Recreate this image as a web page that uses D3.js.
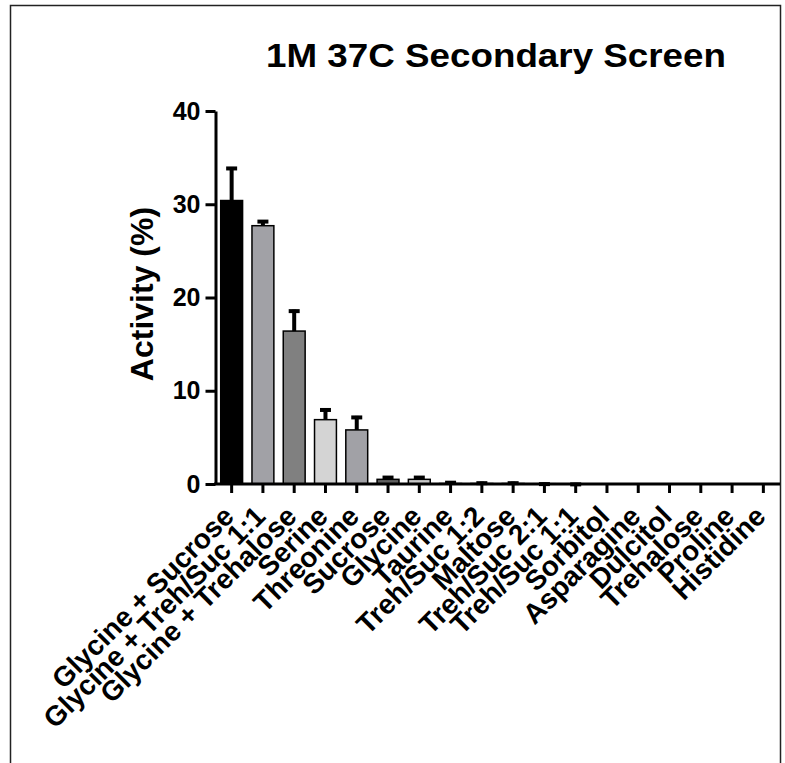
<!DOCTYPE html>
<html>
<head>
<meta charset="utf-8">
<script src="https://cdn.jsdelivr.net/npm/d3@7"></script>
<style>
  body { margin: 0; background: #fff; }
  text { font-family: "Liberation Sans", Arial, sans-serif; font-weight: bold; fill: #000; }
</style>
</head>
<body>
<div id="chart"></div>
<script>
const categories = ["Glycine + Sucrose", "Glycine + Treh/Suc 1:1", "Glycine + Trehalose", "Serine",
    "Threonine", "Sucrose", "Glycine", "Taurine", "Treh/Suc 1:2", "Maltose", "Treh/Suc 2:1",
    "Treh/Suc 1:1", "Sorbitol", "Asparagine", "Dulcitol", "Trehalose", "Proline", "Histidine"];
const activity = [30.4, 27.7, 16.4, 6.9, 5.8, 0.5, 0.5, 0.05, 0.05, 0.05, 0.03, 0.02, 0, 0, 0, 0, 0, 0];
const errors = [3.6, 0.6, 2.3, 1.2, 1.5, 0.35, 0.35, 0.25, 0.2, 0.2, 0.12, 0.1, 0, 0, 0, 0, 0, 0];
const barColors = ["#000000", "#a1a1a6", "#808080", "#d4d4d4", "#a1a1a6", "#616161", "#c8c8c8",
    "#000000", "#a1a1a6", "#808080", "#d4d4d4", "#a1a1a6", "#616161", "#c8c8c8",
    "#000000", "#a1a1a6", "#808080", "#d4d4d4"];
const yTicks = [0, 10, 20, 30, 40];

const width = 785, height = 763;
const svg = d3.select("#chart").append("svg")
    .attr("width", width)
    .attr("height", height);

// outer frame (bottom edge runs off the page)
svg.append("rect")
    .attr("x", 10.5).attr("y", 5.5)
    .attr("width", 770).attr("height", 800)
    .attr("fill", "none")
    .attr("stroke", "#222")
    .attr("stroke-width", 1.5);

const x = d3.scaleBand()
    .domain(categories)
    .range([216, 779])
    .paddingInner(0.3)
    .paddingOuter(0.15);

const y = d3.scaleLinear()
    .domain([0, 40])
    .range([484, 111]);

// bars
svg.selectAll("rect.bar").data(categories).enter()
    .append("rect")
        .attr("class", "bar")
        .attr("x", d => x(d))
        .attr("y", (d, i) => y(activity[i]))
        .attr("width", x.bandwidth())
        .attr("height", (d, i) => y(0) - y(activity[i]))
        .attr("fill", (d, i) => barColors[i])
        .attr("stroke", "#000")
        .attr("stroke-width", 1.5);

// error bars (upper only)
const errG = svg.append("g");
categories.forEach((c, i) => {
    if (errors[i] <= 0) return;
    const cx = x(c) + x.bandwidth() / 2;
    errG.append("line")
        .attr("x1", cx).attr("x2", cx)
        .attr("y1", y(activity[i])).attr("y2", y(activity[i] + errors[i]))
        .attr("stroke", "#000").attr("stroke-width", 4);
    errG.append("line")
        .attr("x1", cx - 5.5).attr("x2", cx + 5.5)
        .attr("y1", y(activity[i] + errors[i]) + 1.5).attr("y2", y(activity[i] + errors[i]) + 1.5)
        .attr("stroke", "#000").attr("stroke-width", 4);
});

// y axis
const yAxis = svg.append("g")
    .attr("transform", "translate(215.5,0)")
    .call(d3.axisLeft(y).tickValues(yTicks).tickSize(10).tickSizeOuter(0).tickPadding(5));
yAxis.select(".domain").attr("stroke", "#000").attr("stroke-width", 3);
yAxis.selectAll(".tick line").attr("stroke", "#000").attr("stroke-width", 3);
yAxis.selectAll(".tick text")
    .style("font-size", "25px")
    .style("font-family", "'Liberation Sans', Arial, sans-serif")
    .style("font-weight", "bold")
    .attr("fill", "#000");

// x axis
const xAxis = svg.append("g")
    .attr("transform", "translate(0,484)")
    .call(d3.axisBottom(x).tickSize(9).tickSizeOuter(0).tickFormat(""));
xAxis.select(".domain").attr("stroke", "#000").attr("stroke-width", 3)
    .attr("d", "M214,0H780");
xAxis.selectAll(".tick line").attr("stroke", "#000").attr("stroke-width", 3);

// rotated category labels
svg.append("g").selectAll("text").data(categories).enter()
    .append("text")
        .attr("text-anchor", "end")
        .attr("transform", d => `translate(${x(d) + x.bandwidth() / 2 + 4},518) rotate(-45)`)
        .style("font-size", "28px")
        .text(d => d);

// axis title
svg.append("text")
    .attr("text-anchor", "middle")
    .attr("transform", "translate(153,294) rotate(-90)")
    .style("font-size", "32px")
    .text("Activity (%)");

// chart title
svg.append("text")
    .attr("x", 266)
    .attr("y", 67)
    .attr("textLength", 460)
    .attr("lengthAdjust", "spacingAndGlyphs")
    .style("font-size", "33px")
    .text("1M 37C Secondary Screen");
</script>
</body>
</html>
